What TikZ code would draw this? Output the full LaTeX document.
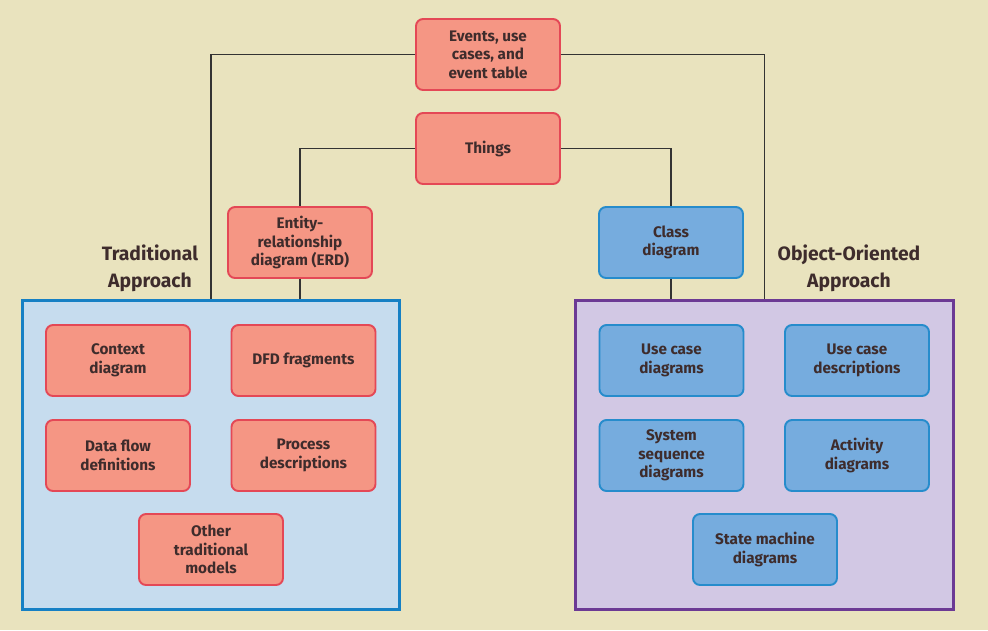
\documentclass[tikz,border=0pt]{standalone}
\usepackage{fontspec}
\setmainfont{Fira Sans}
\usepackage{tikz}
\definecolor{bgbeige}{RGB}{233,227,190}
\definecolor{redfill}{RGB}{245,150,132}
\definecolor{redline}{RGB}{228,72,86}
\definecolor{bluefill}{RGB}{118,172,222}
\definecolor{blueline}{RGB}{38,140,204}
\definecolor{tradfill}{RGB}{198,220,238}
\definecolor{tradline}{RGB}{22,128,196}
\definecolor{oofill}{RGB}{210,200,228}
\definecolor{ooline}{RGB}{108,58,148}
\definecolor{inktext}{RGB}{62,44,44}
\tikzstyle{model}=[rectangle,rounded corners=4pt,line width=1.1pt,minimum width=2.88cm,minimum height=1.42cm,align=center,font=\bfseries\fontsize{8.7}{10.6}\selectfont,text=inktext,inner sep=2pt]
\tikzstyle{redmodel}=[model,fill=redfill,draw=redline]
\tikzstyle{bluemodel}=[model,fill=bluefill,draw=blueline]
\tikzstyle{approach}=[rectangle,line width=1.7pt,minimum height=6.18cm,minimum width=7.55cm]
\tikzstyle{heading}=[align=center,font=\bfseries\fontsize{11}{15.5}\selectfont,text=inktext]
\tikzstyle{link}=[line width=0.95pt,draw=black!80]

\begin{document}
\begin{tikzpicture}
\fill[bgbeige] (0,0) rectangle (19.76,-12.6);
\useasboundingbox (0,0) rectangle (19.76,-12.6);
% the two approaches
\node[approach,fill=tradfill,draw=tradline] at (4.22,-9.09) (trad) {};
\node[approach,fill=oofill,draw=ooline] at (15.29,-9.09) (oo) {};
\node[heading] at (3.0,-5.36) (tradlabel) {Traditional\\Approach};
\node[heading] at (16.98,-5.36) (oolabel) {Object-Oriented\\Approach};
% shared models
\node[redmodel] at (9.76,-1.09) (events) {Events, use\\cases, and\\event table};
\node[redmodel] at (9.76,-2.97) (things) {Things};
\node[redmodel] at (6.0,-4.85) (erd) {Entity-\\relationship\\diagram (ERD)};
\node[bluemodel] at (13.42,-4.85) (class) {Class\\diagram};
% traditional models
\node[redmodel] at (2.36,-7.21) (context) {Context\\diagram};
\node[redmodel] at (6.07,-7.21) (dfd) {DFD fragments};
\node[redmodel] at (2.36,-9.11) (dataflow) {Data flow\\definitions};
\node[redmodel] at (6.07,-9.11) (process) {Process\\descriptions};
\node[redmodel] at (4.22,-10.99) (other) {Other\\traditional\\models};
% object-oriented models
\node[bluemodel] at (13.43,-7.21) (ucdiag) {Use case\\diagrams};
\node[bluemodel] at (17.14,-7.21) (ucdesc) {Use case\\descriptions};
\node[bluemodel] at (13.43,-9.11) (ssd) {System\\sequence\\diagrams};
\node[bluemodel] at (17.14,-9.11) (activity) {Activity\\diagrams};
\node[bluemodel] at (15.30,-10.99) (statemachine) {State machine\\diagrams};
% connectors
\draw[link] (events.west) -| (trad.north);
\draw[link] (events.east) -| (oo.north);
\draw[link] (things.west) -| (erd.north);
\draw[link] (things.east) -| (class.north);
\draw[link] (erd.south) -- (erd.south |- trad.north);
\draw[link] (class.south) -- (class.south |- oo.north);
\end{tikzpicture}
\end{document}
